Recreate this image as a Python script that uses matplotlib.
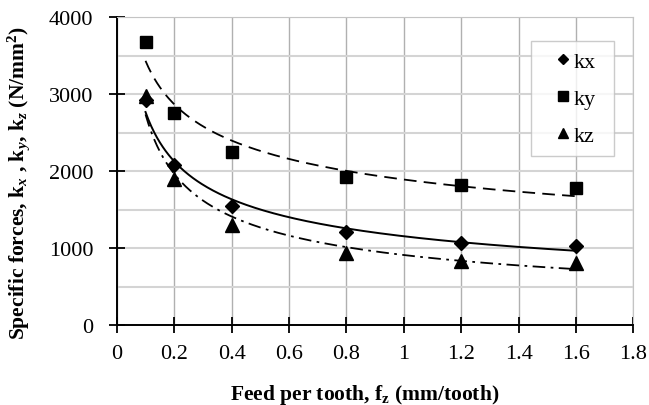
import matplotlib.pyplot as plt
import numpy as np

plt.rcParams['font.family'] = ['Liberation Serif', 'DejaVu Serif']
plt.rcParams['mathtext.fontset'] = 'custom'
plt.rcParams['mathtext.rm'] = 'Liberation Serif'
plt.rcParams['mathtext.bf'] = 'Liberation Serif:bold'
plt.rcParams['mathtext.it'] = 'Liberation Serif:italic:bold'

# data
feed = np.array([0.1, 0.2, 0.4, 0.8, 1.2, 1.6])
kx = np.array([2920, 2080, 1550, 1210, 1070, 1030])
ky = np.array([3680, 2760, 2250, 1930, 1820, 1780])
kz = np.array([2980, 1900, 1300, 940, 830, 810])
x_ticks = [0, 0.2, 0.4, 0.6, 0.8, 1.0, 1.2, 1.4, 1.6, 1.8]
x_ticklabels = ['0', '0.2', '0.4', '0.6', '0.8', '1', '1.2', '1.4', '1.6', '1.8']
y_ticks = [0, 1000, 2000, 3000, 4000]

series = [
    ('kx', kx, 'D', 7.0, '-', 1.4),
    ('ky', ky, 's', 9.0, (0, (7, 4)), 1.3),
    ('kz', kz, '^', 9.5, (0, (7, 3, 1.5, 3)), 1.3),
]

fig = plt.figure(figsize=(6.49, 4.06), dpi=100)
ax = fig.add_axes([0.180, 0.197, 0.796, 0.758])

x_fit = np.linspace(feed.min(), feed.max(), 300)
for name, y, marker, ms, ls, lw in series:
    ax.plot(feed, y, linestyle='none', marker=marker, markersize=ms,
            color='black', label=name, zorder=3)
    # power trendline y = a * x^b
    b, log_a = np.polyfit(np.log(feed), np.log(y), 1)
    ax.plot(x_fit, np.exp(log_a) * x_fit**b, color='black', linestyle=ls,
            linewidth=lw, zorder=2)

ax.set_xlim(0, 1.8)
ax.set_ylim(0, 4000)
ax.set_xticks(x_ticks)
ax.set_xticklabels(x_ticklabels)
ax.set_yticks(y_ticks)
ax.set_yticks([500, 1500, 2500, 3500], minor=True)
ax.tick_params(axis='both', which='major', direction='inout', length=12, width=1.3,
               labelsize=16)
ax.tick_params(axis='x', which='major', pad=8)
ax.tick_params(axis='y', which='major', pad=11)
ax.tick_params(axis='y', which='minor', length=0)
ax.xaxis.grid(True, color='#b0b0b0', linewidth=1.0)
ax.yaxis.grid(True, which='both', color='#d4d4d4', linewidth=1.5)
ax.set_axisbelow(True)

for side in ['top', 'right']:
    ax.spines[side].set_color('#c4c4c4')
for side in ['left', 'bottom']:
    ax.spines[side].set_linewidth(1.4)

ax.set_xlabel(r'Feed per tooth, f$_\mathbf{z}$ (mm/tooth)', fontsize=15.5,
              fontweight='bold')
ax.xaxis.set_label_coords(0.479, -0.185)
ax.set_ylabel(r'Specific forces, k$_\mathit{x}$ , k$_\mathit{y}$, k$_\mathit{z}$ (N/mm$^\mathbf{2}$)',
              fontsize=15.5, fontweight='bold')
ax.yaxis.set_label_coords(-0.165, 0.463)

leg = ax.legend(loc='upper left', bbox_to_anchor=(0.8026, 0.5, 0.1606, 0.423),
                mode='expand', fontsize=16, frameon=True, fancybox=False,
                edgecolor='#bfbfbf', handlelength=1.9, handletextpad=-0.45,
                labelspacing=0.75, borderpad=0.45, borderaxespad=0,
                markerscale=0.8)
leg.get_frame().set_linewidth(1.0)

fig.savefig('out.png', dpi=100)
